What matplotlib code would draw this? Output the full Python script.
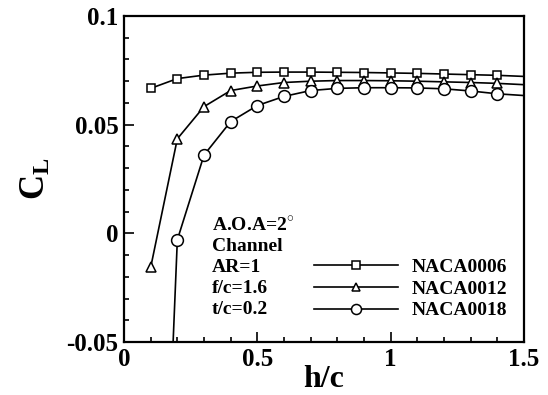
import numpy as np
import matplotlib
matplotlib.use("Agg")
import matplotlib.pyplot as plt
from matplotlib.ticker import MultipleLocator, FormatStrFormatter

plt.rcParams["font.family"] = "Liberation Serif"
plt.rcParams["font.weight"] = "bold"
plt.rcParams["mathtext.fontset"] = "custom"
plt.rcParams["mathtext.bf"] = "Liberation Serif:bold"
plt.rcParams["mathtext.rm"] = "Liberation Serif:bold"

# h/c positions
hc = [0.1, 0.2, 0.3, 0.4, 0.5, 0.6, 0.7, 0.8, 0.9, 1.0, 1.1, 1.2, 1.3, 1.4, 1.5]

# lift coefficient for each section
cl_0006 = [0.0667, 0.0712, 0.0728, 0.0737, 0.0741, 0.0742, 0.0742, 0.0741,
           0.0740, 0.0738, 0.0736, 0.0733, 0.0730, 0.0727, 0.0722]
cl_0012 = [-0.0157, 0.0435, 0.0583, 0.0657, 0.0678, 0.0694, 0.0700, 0.0703,
           0.0703, 0.0702, 0.0700, 0.0697, 0.0694, 0.0690, 0.0684]
cl_0018 = [-0.30, -0.003, 0.036, 0.0514, 0.0588, 0.0630, 0.0657, 0.0667,
           0.0670, 0.0670, 0.0669, 0.0665, 0.0655, 0.0642, 0.0634]

info_lines = ["A.O.A=2$^{\\circ}$", "Channel", "AR=1", "f/c=1.6", "t/c=0.2"]

fig = plt.figure(figsize=(5.48, 3.95), dpi=100)
ax = fig.add_axes([124 / 548, 1 - 342 / 395, 400 / 548, 326 / 395])

marks = list(range(len(hc) - 1))
ax.plot(hc, cl_0006, "-s", color="black", lw=1.2, ms=6, mfc="white",
        mew=1.1, markevery=marks, label="NACA0006")
ax.plot(hc, cl_0012, "-^", color="black", lw=1.2, ms=7, mfc="white",
        mew=1.1, markevery=marks, label="NACA0012")
ax.plot(hc, cl_0018, "-o", color="black", lw=1.2, ms=8.5, mfc="white",
        mew=1.1, markevery=marks, label="NACA0018")

ax.set_xlim(0, 1.5)
ax.set_ylim(-0.05, 0.1)

# ticks inward, only left and bottom
ax.xaxis.set_major_locator(MultipleLocator(0.5))
ax.xaxis.set_minor_locator(MultipleLocator(0.1))
ax.yaxis.set_major_locator(MultipleLocator(0.05))
ax.yaxis.set_minor_locator(MultipleLocator(0.01))
ax.xaxis.set_major_formatter(FormatStrFormatter("%g"))
ax.yaxis.set_major_formatter(FormatStrFormatter("%g"))
ax.tick_params(which="both", direction="in", top=False, right=False,
               labelsize=18, width=1.2)
ax.tick_params(which="major", length=7, pad=4)
ax.tick_params(which="minor", length=3.5)
for s in ax.spines.values():
    s.set_linewidth(1.6)

ax.set_xlabel("h/c", fontsize=23, fontweight="bold", labelpad=-4)
ax.set_ylabel(r"$\mathbf{C_L}$", fontsize=25, labelpad=10)

for i, t in enumerate(info_lines):
    ax.text(212 / 548, 1 - (225 + 21.2 * i) / 395, t, transform=fig.transFigure,
            fontsize=14, fontweight="bold", va="center", ha="left")

ax.legend(loc="upper left", bbox_to_anchor=(314 / 548, 1 - 258 / 395),
          bbox_transform=fig.transFigure, frameon=False, fontsize=14,
          handlelength=4.3, handletextpad=0.7, labelspacing=0.22,
          borderaxespad=0, borderpad=0, markerscale=0.85)

fig.savefig("out.png", dpi=100)
